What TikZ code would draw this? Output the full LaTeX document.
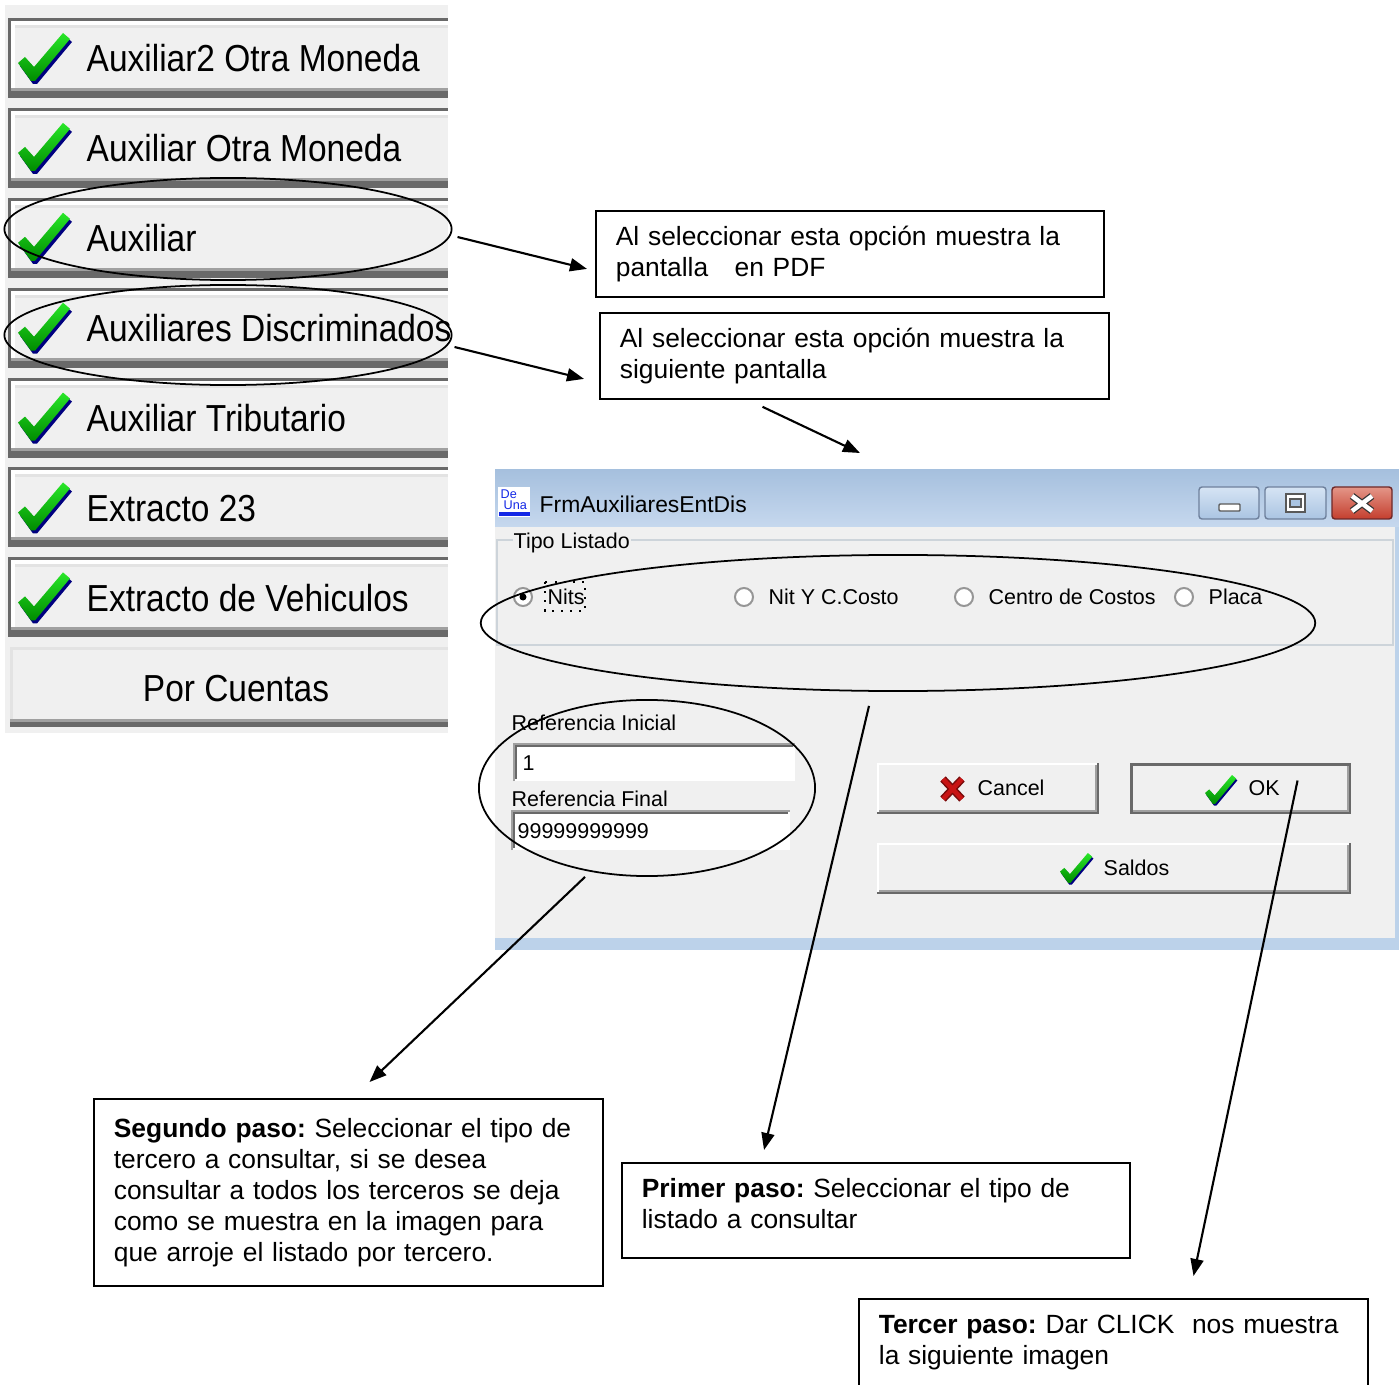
\documentclass[tikz,border=0pt]{standalone}
\usepackage{fontspec}
\setmainfont{Liberation Sans}
\usepackage{graphicx}
\usetikzlibrary{shapes,arrows.meta}

\definecolor{btnface}{RGB}{240,240,240}
\definecolor{btndark}{RGB}{105,105,105}
\definecolor{btnmid}{RGB}{160,160,160}
\definecolor{btnlight}{RGB}{227,227,227}
\definecolor{tickgreen}{RGB}{0,140,0}
\definecolor{tickhi}{RGB}{40,230,40}
\definecolor{tickdark}{RGB}{0,0,128}
\definecolor{titleA}{RGB}{166,192,222}
\definecolor{titleB}{RGB}{198,216,238}
\definecolor{frameblue}{RGB}{188,210,234}
\definecolor{etch}{RGB}{205,212,218}
\definecolor{capA}{RGB}{214,228,244}
\definecolor{capB}{RGB}{170,196,226}
\definecolor{capedge}{RGB}{110,128,156}
\definecolor{closeA}{RGB}{228,150,136}
\definecolor{closeB}{RGB}{196,62,46}
\definecolor{closeedge}{RGB}{110,40,40}
\definecolor{iconblue}{RGB}{20,40,230}
\definecolor{xred}{RGB}{200,20,20}
\definecolor{radioedge}{RGB}{150,150,150}

\newcommand{\notefont}{\fontsize{7.5}{8.8}\selectfont}
\newcommand{\menufont}{\fontsize{10.7}{12}\selectfont}
\newcommand{\dlgfont}{\fontsize{6.1}{7}\selectfont}
\newcommand{\titlefont}{\fontsize{6.5}{7.5}\selectfont}
\newcommand{\squeeze}[1]{\scalebox{0.89}[1]{#1}}
\newcommand{\lift}{\rule[-0.14cm]{0pt}{0.1cm}}
% green tick: #1 = top left corner, #2 = scale
\newcommand{\greentick}[2]{%
  \begin{scope}[shift={#1},scale=#2]
    \fill[tickdark] (2,33) -- (9,27) -- (18,37) -- (47,3) -- (54,9) -- (19,51) -- (15,51) -- cycle;
    \shade[top color=tickhi, bottom color=tickgreen] (0,30) -- (7,24) -- (16,34) -- (45,0) -- (52,6) -- (17,48) -- (13,48) -- cycle;
  \end{scope}}

\tikzstyle{notebox} = [draw, fill=white, line width=0.5pt, align=left, inner xsep=0.2cm, inner ysep=0, anchor=north west, font=\notefont]
\tikzstyle{ovalring} = [draw, ellipse, line width=0.5pt, inner sep=0]
\tikzstyle{menulabel} = [anchor=base west, inner sep=0, font=\menufont]
\tikzstyle{dlglabel} = [anchor=base west, inner sep=0, font=\dlgfont]
\tikzstyle{winbtn} = [fill=btnface, draw=white, line width=0.02cm, anchor=north west, inner sep=0]

\begin{document}
\frenchspacing
\begin{tikzpicture}[x=0.01cm, y=-0.01cm, >={Triangle[length=0.17cm,width=0.13cm]}]
	\path[use as bounding box, fill=white] (0,0) rectangle (1399,1385);
	\clip (0,0) rectangle (1399,1385);

	% menu panel
	\fill[btnface] (5,5) rectangle (448,733);
	\foreach \lbl [count=\i from 0] in {Auxiliar2 Otra Moneda, Auxiliar Otra Moneda, Auxiliar, Auxiliares Discriminados, Auxiliar Tributario, Extracto 23, Extracto de Vehiculos} {
		\pgfmathsetmacro{\btntop}{18+89.9*\i}
		\fill[btndark] (8,\btntop) rectangle (448,\btntop+80);
		\fill[white] (11,\btntop+3) rectangle (448,\btntop+70);
		\fill[btnface] (15,\btntop+7) rectangle (448,\btntop+70);
		\fill[btnlight] (15,\btntop+7) rectangle (448,\btntop+10);
		\fill[btnmid] (11,\btntop+70) rectangle (448,\btntop+73);
		\greentick{(18,\btntop+15)}{1}
		\node[menulabel] (menu\i) at (86,\btntop+54) {\squeeze{\lbl}};
	}
	\fill[btnlight] (10,647) rectangle (448,727);
	\fill[btnface] (13,650) rectangle (448,719);
	\fill[btnmid] (10,719) rectangle (448,722);
	\fill[btndark] (10,722) rectangle (448,727);
	\node[menulabel, anchor=base] (menu7) at (236,701) {\squeeze{Por Cuentas}};

	% dialog window
	\fill[frameblue] (495,470) rectangle (1399,950);
	\shade[top color=titleA, bottom color=titleB] (495,470) rectangle (1399,527);
	\fill[btnface] (495,527) rectangle (1395,938);
	\fill[white] (498,487) rectangle (530,517);
	\node[anchor=north west, inner sep=0, font=\fontsize{3.6}{4}\selectfont, text=iconblue] (icontop) at (500,489) {De};
	\node[anchor=north west, inner sep=0, font=\fontsize{3.6}{4}\selectfont, text=iconblue] (iconbot) at (503,500) {\underline{Una}};
	\fill[iconblue] (499,512) rectangle (530,516);
	\node[anchor=base west, inner sep=0, font=\titlefont] (frmtitle) at (539,512) {FrmAuxiliaresEntDis};
	\draw[rounded corners=0.03cm, draw=capedge, top color=capA, bottom color=capB] (1199,487) rectangle (1259,519);
	\draw[rounded corners=0.01cm, draw=gray!70!black, fill=white] (1219,504) rectangle (1240,511);
	\draw[rounded corners=0.03cm, draw=capedge, top color=capA, bottom color=capB] (1265,487) rectangle (1326,519);
	\draw[draw=gray!70!black, fill=white] (1286,494) rectangle (1305,512);
	\draw[draw=gray!70!black, fill=capB] (1290,499) rectangle (1301,507);
	\draw[rounded corners=0.03cm, draw=closeedge, top color=closeA, bottom color=closeB] (1332,487) rectangle (1392,519);
	\draw[line width=0.07cm, gray!40!black] (1352,496) -- (1372,511) (1372,496) -- (1352,511);
	\draw[line width=0.045cm, white] (1352,496) -- (1372,511) (1372,496) -- (1352,511);

	% tipo listado
	\draw[etch, line width=0.02cm] (497,540) rectangle (1393,645);
	\node[dlglabel, fill=btnface, inner sep=0.01cm] (tipolbl) at (512,548) {Tipo Listado};
	\foreach \x/\lbl in {523/Nits, 744/Nit Y C.Costo, 964/Centro de Costos, 1184/Placa} {
		\draw[radioedge, fill=white, line width=0.02cm] (\x,597) circle (9);
		\node[dlglabel] (opt\x) at (\x+24,604) {\lbl};
	}
	\fill (523,597) circle (3.5);
	\draw[dotted, line width=0.02cm] (545,582) rectangle (585,611);

	% referencias
	\node[dlglabel] (refini) at (511,731) {Referencia Inicial};
	\fill[white] (514,744) rectangle (795,781);
	\draw[btnmid, line width=0.02cm] (514,781) |- (795,744);
	\draw[btndark, line width=0.02cm] (516,779) |- (793,746);
	\node[dlglabel] (refinival) at (522,770) {1};
	\node[dlglabel] (reffin) at (511,807) {Referencia Final};
	\fill[white] (512,811) rectangle (790,850);
	\draw[btnmid, line width=0.02cm] (512,850) |- (790,811);
	\draw[btndark, line width=0.02cm] (514,848) |- (788,813);
	\node[dlglabel] (reffinval) at (517,838) {99999999999};

	% buttons
	\node[winbtn, minimum width=2.19cm, minimum height=0.48cm] (cancelbtn) at (877,763) {};
	\draw[btndark, line width=0.02cm] (cancelbtn.south west) -| (cancelbtn.north east);
	\draw[btnmid, line width=0.02cm] ([shift={(2,-2)}]cancelbtn.south west) -| ([shift={(-2,2)}]cancelbtn.north east);
	\draw[xred!60!black, line width=0.075cm] (943,779) -- (962,799) (962,779) -- (943,799);
	\draw[xred, line width=0.045cm] (943,779) -- (962,799) (962,779) -- (943,799);
	\node[dlglabel] (cancellbl) at (977,795) {Cancel};

	\node[winbtn, draw=btndark, line width=0.03cm, minimum width=2.18cm, minimum height=0.48cm] (okbtn) at (1130,763) {};
	\draw[btnmid, line width=0.02cm] ([shift={(3,-3)}]okbtn.south west) -| ([shift={(-3,3)}]okbtn.north east);
	\greentick{(1205,775)}{0.6}
	\node[dlglabel] (oklbl) at (1248,795) {OK};

	\node[winbtn, minimum width=4.71cm, minimum height=0.48cm] (saldosbtn) at (877,843) {};
	\draw[btndark, line width=0.02cm] (saldosbtn.south west) -| (saldosbtn.north east);
	\draw[btnmid, line width=0.02cm] ([shift={(2,-2)}]saldosbtn.south west) -| ([shift={(-2,2)}]saldosbtn.north east);
	\greentick{(1060,853)}{0.62}
	\node[dlglabel] (saldoslbl) at (1103,875) {Saldos};

	% marks
	\node[ovalring, minimum width=4.47cm, minimum height=1.02cm] (auxell) at (228,229) {};
	\node[ovalring, minimum width=4.47cm, minimum height=1.00cm] (discell) at (228,335) {};
	\node[ovalring, minimum width=8.34cm, minimum height=1.36cm] (radioell) at (898,623) {};
	\node[ovalring, minimum width=3.36cm, minimum height=1.76cm] (refell) at (647,788) {};

	% notes
	\node[notebox, text width=4.68cm, minimum height=0.86cm] (pdfnote) at (595,210) {Al seleccionar esta opción muestra la\\pantalla\ \ \ en PDF};
	\node[notebox, text width=4.69cm, minimum height=0.86cm] (nextnote) at (599,312) {Al seleccionar esta opción muestra la\\siguiente pantalla};
	\node[notebox, text width=4.69cm, minimum height=1.87cm] (paso2) at (93,1098) {\textbf{Segundo paso:} Seleccionar el tipo de\\tercero a consultar, si se desea\\consultar a todos los terceros se deja\\como se muestra en la imagen para\\que arroje el listado por tercero.};
	\node[notebox, text width=4.68cm, minimum height=0.95cm] (paso1) at (621,1162) {\textbf{Primer paso:} Seleccionar el tipo de\\listado a consultar\lift};
	\node[notebox, text width=4.69cm, minimum height=0.95cm] (paso3) at (858,1298) {\textbf{Tercer paso:} Dar CLICK\ \ nos muestra\\la siguiente imagen\lift};
	\coordinate (formtop) at (860,453);

	% arrows
	\draw[->, line width=0.6pt] ([shift={(5,8)}]auxell.east) -- ([shift={(-8,15)}]pdfnote.west);
	\draw[->, line width=0.6pt] ([shift={(2,12)}]discell.east) -- ([shift={(-15,23)}]nextnote.west);
	\draw[->, line width=0.6pt] ([shift={(-92,7)}]nextnote.south) -- (formtop);
	\draw[->, line width=0.6pt] ([shift={(-62,0)}]refell.south) -- ([shift={(21,-16)}]paso2.north);
	\draw[->, line width=0.6pt] ([shift={(-29,14)}]radioell.south) -- ([shift={(-112,-12)}]paso1.north);
	\draw[->, line width=0.6pt] ([shift={(57,-8)}]okbtn.center) -- ([shift={(80,-22)}]paso3.north);
\end{tikzpicture}
\end{document}
